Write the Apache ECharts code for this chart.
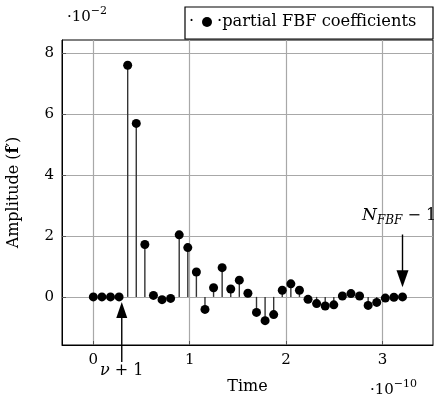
<!DOCTYPE html>
<html><head><meta charset="utf-8">
<script src="https://cdn.jsdelivr.net/npm/echarts@6/dist/echarts.min.js"></script>
<style>html,body{margin:0;padding:0;background:#fff}#c{width:443px;height:402px}</style>
</head><body><div id="c"></div>
<script>
// ---- data ----
const sampleStep = 0.0891; // time step (×1e-10)
const values = [0, 0, 0, 0, 7.61, 5.70, 1.72, 0.05, -0.09, -0.05, 2.04, 1.62, 0.82, -0.41, 0.30, 0.96, 0.26, 0.55, 0.12, -0.51, -0.78, -0.58, 0.22, 0.43, 0.22, -0.08, -0.22, -0.30, -0.26, 0.03, 0.11, 0.03, -0.28, -0.18, -0.04, -0.01, 0];
const xTicks = [0, 1, 2, 3];
const yTicks = [0, 2, 4, 6, 8];
const seriesName = 'partial FBF coefficients';
const nuArrowX = 0.295;
const nArrowIndex = 36;

const FONT = 'DejaVu Serif';
const points = values.map((v, i) => [i * sampleStep, v]);

const chart = echarts.init(document.getElementById('c'), null, {renderer: 'canvas'});
const grid = {left: 62, right: 10, top: 40, bottom: 57, show: true, borderColor: '#000', borderWidth: 1, containLabel: false, outerBoundsMode: 'none'};
chart.setOption({
  animation: false,
  backgroundColor: '#fff',
  textStyle: {fontFamily: FONT},
  grid: grid,
  legend: {
    data: [{name: seriesName, icon: 'circle'}],
    left: 202, top: 14, padding: 0, z: 20,
    itemWidth: 10, itemHeight: 10, itemGap: 9,
    formatter: n => '\u00b7' + n,
    textStyle: {fontFamily: FONT, fontSize: 16.3, color: '#000'}
  },
  xAxis: {
    type: 'value', min: -0.325, max: 3.524,
    name: 'Time', nameLocation: 'middle', nameGap: 34,
    nameTextStyle: {fontFamily: FONT, fontSize: 16, color: '#000'},
    axisLine: {onZero: false, lineStyle: {color: '#000', width: 1}},
    axisTick: {show: true, inside: true, length: 4, customValues: xTicks, lineStyle: {color: '#555'}},
    axisLabel: {customValues: xTicks, fontFamily: FONT, fontSize: 15, color: '#000', margin: 8},
    splitLine: {show: true, lineStyle: {color: '#a8a8a8', width: 1.2}}
  },
  yAxis: {
    type: 'value', min: -1.58, max: 8.44,
    name: '{a|Amplitude (}{b|f}{a|\u2032)}', nameLocation: 'middle', nameGap: 40, nameRotate: 90,
    nameTextStyle: {rich: {a: {fontFamily: FONT, fontSize: 16, color: '#000'}, b: {fontFamily: FONT, fontSize: 16, fontWeight: 'bold', color: '#000'}}},
    axisLine: {onZero: false, lineStyle: {color: '#000', width: 1}},
    axisTick: {show: true, inside: true, length: 4, customValues: yTicks, lineStyle: {color: '#555'}},
    axisLabel: {customValues: yTicks, fontFamily: FONT, fontSize: 15, color: '#000', margin: 8},
    splitLine: {show: true, lineStyle: {color: '#a8a8a8', width: 1.2}}
  },
  series: [
    {
      type: 'custom', name: 'stems', data: points, silent: true, z: 3,
      renderItem: (params, api) => {
        const p0 = api.coord([api.value(0), 0]);
        const p1 = api.coord([api.value(0), api.value(1)]);
        return {type: 'line', shape: {x1: p0[0], y1: p0[1], x2: p1[0], y2: p1[1]}, style: {stroke: '#333', lineWidth: 1.4}};
      }
    },
    {
      type: 'scatter', name: seriesName, data: points, symbol: 'circle', symbolSize: 9, z: 4,
      itemStyle: {color: '#000', opacity: 1}
    }
  ]
});

function px(p) { return chart.convertToPixel({gridIndex: 0}, p); }
const tipNu = px([nuArrowX, -0.17]);
const tailNuY = 402 - grid.bottom + 17;
const nPt = points[nArrowIndex];
const tipN = px([nPt[0], 0.32]);
const tailN = px([nPt[0], 2.05]);

const expRich = {a: {fontFamily: FONT, fontSize: 15, lineHeight: 22, verticalAlign: 'middle', fill: '#000'}, p: {fontFamily: FONT, fontSize: 11, lineHeight: 12, verticalAlign: 'top', fill: '#000'}};
const graphics = [
  // legend box and leading dot
  {type: 'rect', z: -1, shape: {x: 185, y: 7, width: 248, height: 32}, style: {fill: '#fff', stroke: '#000', lineWidth: 1.2}},
  {type: 'text', z: -1, x: 189, y: 22, style: {text: '\u00b7', font: '16px "' + FONT + '"', fill: '#000', textVerticalAlign: 'middle'}},
  // exponent labels
  {type: 'text', x: 67, y: 17, style: {text: '{a|\u00b710}{p|\u22122}', textVerticalAlign: 'middle', rich: expRich}},
  {type: 'text', x: 370, y: 390, style: {text: '{a|\u00b710}{p|\u221210}', textVerticalAlign: 'middle', rich: expRich}},
  // nu+1 arrow
  {type: 'line', shape: {x1: tipNu[0], y1: tailNuY, x2: tipNu[0], y2: tipNu[1] + 12}, style: {stroke: '#000', lineWidth: 1.4}, z: 5},
  {type: 'polygon', shape: {points: [[tipNu[0], tipNu[1]], [tipNu[0] - 5.5, tipNu[1] + 16], [tipNu[0] + 5.5, tipNu[1] + 16]]}, style: {fill: '#000'}, z: 5},
  {type: 'text', x: tipNu[0], y: 371, style: {text: '{i|\u03bd}{a| + 1}', textAlign: 'center', textVerticalAlign: 'middle', rich: {i: {fontFamily: FONT, fontStyle: 'italic', fontSize: 16, fill: '#000'}, a: {fontFamily: FONT, fontSize: 16, fill: '#000'}}}},
  // N_FBF - 1 arrow
  {type: 'line', shape: {x1: tailN[0], y1: tailN[1], x2: tailN[0], y2: tipN[1] - 12}, style: {stroke: '#000', lineWidth: 1.4}, z: 5},
  {type: 'polygon', shape: {points: [[tipN[0], tipN[1]], [tipN[0] - 6, tipN[1] - 17], [tipN[0] + 6, tipN[1] - 17]]}, style: {fill: '#000'}, z: 5},
  {type: 'text', x: 362, y: 216, style: {text: '{n|N}{s|FBF}{m| \u2212 1}', textVerticalAlign: 'middle', rich: {
    n: {fontFamily: FONT, fontStyle: 'italic', fontSize: 17, lineHeight: 22, verticalAlign: 'middle', fill: '#000'},
    s: {fontFamily: FONT, fontStyle: 'italic', fontSize: 12, lineHeight: 12, verticalAlign: 'bottom', fill: '#000'},
    m: {fontFamily: FONT, fontSize: 16, lineHeight: 22, verticalAlign: 'middle', fill: '#000'}}}, z: 6}
];
chart.setOption({graphic: graphics});
</script>
</body></html>
